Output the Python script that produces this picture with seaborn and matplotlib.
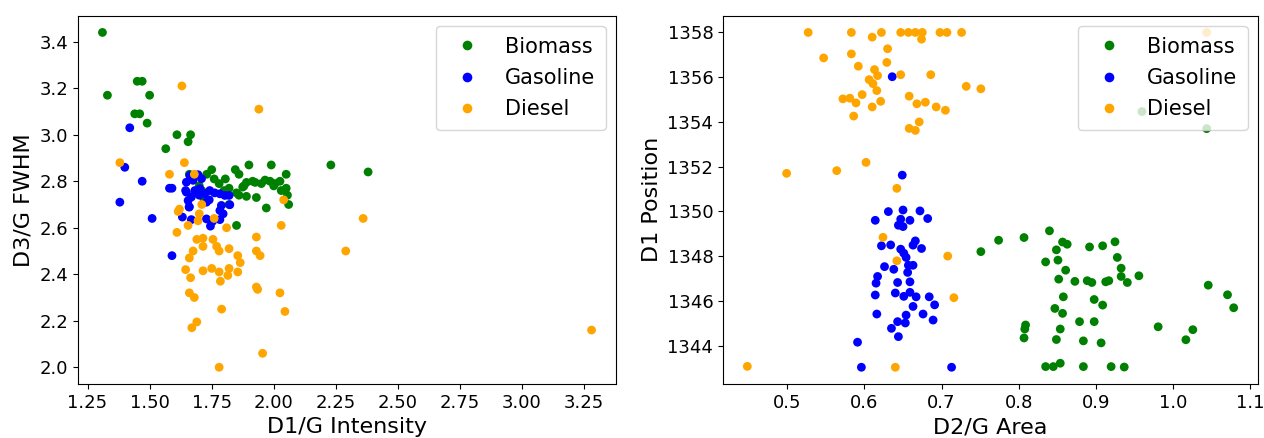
import numpy as np
import pandas as pd
import matplotlib
matplotlib.use("Agg")
import matplotlib.pyplot as plt
import seaborn as sns

categories = ["Biomass", "Gasoline", "Diesel"]
colors = {"Biomass": "green", "Gasoline": "blue", "Diesel": "orange"}

# ---- Left panel: D1/G Intensity vs D3/G FWHM ----
bio_int = [1.31, 1.33, 1.45, 1.47, 1.50, 1.44, 1.46, 1.49, 1.61, 1.665, 1.655, 1.565,
           2.23, 2.38, 1.75, 1.90, 1.99, 1.845, 1.86, 2.05, 1.805, 1.76, 1.73, 1.66,
           1.965, 1.985, 2.005, 2.025, 1.915, 1.89, 1.875, 1.82, 2.05, 1.86, 1.89, 1.93,
           2.055, 2.06, 1.97, 1.85, 1.82, 1.925, 1.85, 1.70, 1.72, 1.78, 1.80, 1.95,
           2.00, 2.03, 1.88, 1.71]
bio_fwhm = [3.44, 3.17, 3.23, 3.23, 3.17, 3.09, 3.09, 3.05, 3.00, 3.00, 2.97, 2.94,
            2.87, 2.84, 2.85, 2.87, 2.87, 2.85, 2.83, 2.83, 2.81, 2.81, 2.83, 2.83,
            2.805, 2.80, 2.79, 2.80, 2.80, 2.795, 2.775, 2.77, 2.77, 2.74, 2.735, 2.73,
            2.74, 2.70, 2.685, 2.61, 2.70, 2.795, 2.75, 2.78, 2.72, 2.79, 2.76, 2.79,
            2.78, 2.76, 2.78, 2.76]

gas_int = [1.42, 1.40, 1.47, 1.38, 1.58, 1.59, 1.51, 1.59,
           1.648, 1.662, 1.675, 1.695, 1.709, 1.648, 1.655, 1.668, 1.682, 1.702,
           1.722, 1.742, 1.762, 1.783, 1.803, 1.820, 1.823, 1.789, 1.783, 1.796,
           1.783, 1.753, 1.745, 1.729, 1.668, 1.632, 1.659, 1.729, 1.645, 1.66,
           1.70, 1.74]
gas_fwhm = [3.03, 2.86, 2.80, 2.71, 2.77, 2.77, 2.64, 2.48,
            2.796, 2.825, 2.804, 2.828, 2.811, 2.753, 2.717, 2.732, 2.760, 2.768,
            2.746, 2.760, 2.750, 2.746, 2.739, 2.739, 2.699, 2.696, 2.674, 2.660,
            2.635, 2.627, 2.607, 2.638, 2.635, 2.646, 2.689, 2.710, 2.76, 2.69,
            2.74, 2.72]

die_int = [1.63, 1.94, 1.38, 1.64, 1.58, 1.68, 2.04, 1.62, 1.615, 1.71, 1.70, 1.695,
           1.76, 1.655, 1.61, 1.81, 2.03, 1.93, 1.69, 1.715, 1.755, 1.715, 1.77, 1.78,
           1.82, 1.675, 1.66, 1.855, 1.93, 1.945, 1.865, 1.645, 1.715, 1.75, 1.78, 1.82,
           1.815, 1.855, 1.785, 1.665, 1.93, 1.935, 2.025, 1.66, 1.68, 1.79, 2.045, 1.69,
           1.67, 1.955, 1.78, 2.29, 2.36, 3.28]
die_fwhm = [3.21, 3.11, 2.88, 2.88, 2.83, 2.83, 2.72, 2.68, 2.67, 2.70, 2.66, 2.63,
            2.64, 2.61, 2.58, 2.60, 2.61, 2.56, 2.55, 2.555, 2.55, 2.52, 2.52, 2.50,
            2.51, 2.50, 2.47, 2.48, 2.50, 2.48, 2.45, 2.42, 2.415, 2.425, 2.41, 2.425,
            2.395, 2.41, 2.37, 2.385, 2.345, 2.335, 2.32, 2.32, 2.30, 2.25, 2.24, 2.195,
            2.17, 2.06, 2.00, 2.50, 2.64, 2.16]

# ---- Right panel: D2/G Area vs D1 Position ----
bio_area = [0.751, 0.774, 0.807, 0.840, 0.857, 0.863, 0.849, 0.892, 0.909, 0.925,
            0.928, 0.835, 0.851, 0.861, 0.852, 0.873, 0.889, 0.895, 0.913, 0.917,
            0.858, 0.898, 0.909, 0.847, 0.857, 0.879, 0.898, 0.809, 0.808, 0.854,
            0.807, 0.849, 0.884, 0.907, 0.835, 0.845, 0.854, 0.884, 0.920,
            0.933, 0.933, 0.941, 0.956, 0.937, 0.981, 1.026, 1.017, 1.046, 1.071,
            1.079, 0.960, 1.044]
bio_pos = [1348.20, 1348.71, 1348.83, 1349.13, 1348.63, 1348.53, 1348.28, 1348.41,
           1348.46, 1348.64, 1347.94, 1347.74, 1347.82, 1347.37, 1346.97, 1346.87,
           1346.90, 1346.82, 1346.85, 1346.90, 1346.18, 1346.06, 1345.81, 1345.66,
           1345.44, 1345.07, 1345.07, 1344.92, 1344.74, 1344.74, 1344.34, 1344.27,
           1344.21, 1344.12, 1343.06, 1343.06, 1343.21, 1343.06, 1343.06,
           1347.46, 1347.09, 1346.82, 1347.12, 1343.04, 1344.84, 1344.71, 1344.26,
           1346.70, 1346.27, 1345.69, 1354.46, 1353.70]

gas_area = [0.636, 0.649, 0.631, 0.650, 0.672, 0.614, 0.682, 0.659, 0.647, 0.644,
            0.650, 0.622, 0.634, 0.666, 0.663, 0.674, 0.647, 0.651, 0.654, 0.657,
            0.663, 0.656, 0.659, 0.626, 0.638, 0.617, 0.615, 0.643, 0.614, 0.640,
            0.651, 0.659, 0.667, 0.684, 0.663, 0.691, 0.616, 0.654, 0.676, 0.689,
            0.643, 0.653, 0.635, 0.644, 0.591, 0.596, 0.713]
gas_pos = [1356.02, 1351.62, 1349.99, 1350.06, 1350.02, 1349.60, 1349.68, 1349.60,
           1349.65, 1349.38, 1349.32, 1348.46, 1348.50, 1348.68, 1348.49, 1348.34,
           1348.31, 1348.13, 1347.94, 1347.59, 1347.59, 1347.27, 1346.85, 1347.53,
           1347.41, 1347.09, 1346.79, 1346.82, 1346.26, 1346.35, 1346.20, 1346.38,
           1346.18, 1346.18, 1345.75, 1345.82, 1345.41, 1345.36, 1345.41, 1345.14,
           1345.07, 1345.01, 1344.77, 1344.40, 1344.15, 1343.03, 1343.03]

die_area = [0.527, 0.583, 0.622, 0.647, 0.657, 0.666, 0.675, 0.698, 0.707, 0.726,
            1.044, 0.610, 0.674, 0.630, 0.547, 0.583, 0.629, 0.592, 0.613, 0.617,
            0.647, 0.686, 0.606, 0.611, 0.616, 0.597, 0.572, 0.581, 0.589, 0.610,
            0.621, 0.658, 0.668, 0.679, 0.693, 0.705, 0.732, 0.751, 0.586, 0.658,
            0.666, 0.671, 0.602, 0.499, 0.564, 0.642, 0.624, 0.642, 0.708, 0.716,
            0.448, 0.640]
die_pos = [1358.0, 1358.0, 1358.0, 1358.0, 1358.0, 1358.0, 1358.0, 1358.0, 1358.0,
           1358.0, 1358.0, 1357.79, 1357.70, 1357.27, 1356.86, 1357.04, 1356.66,
           1356.49, 1356.34, 1356.07, 1356.11, 1356.11, 1355.89, 1355.71, 1355.40,
           1355.22, 1355.03, 1355.06, 1354.85, 1354.67, 1354.92, 1355.15, 1354.81,
           1354.88, 1354.67, 1354.52, 1355.59, 1355.48, 1354.26, 1353.71, 1353.62,
           1354.00, 1352.19, 1351.70, 1351.82, 1351.03, 1348.84, 1347.79, 1348.00,
           1346.14, 1343.07, 1343.03]

left = pd.DataFrame({
    "D1/G Intensity": bio_int + gas_int + die_int,
    "D3/G FWHM": bio_fwhm + gas_fwhm + die_fwhm,
    "Fuel": ["Biomass"] * len(bio_int) + ["Gasoline"] * len(gas_int) + ["Diesel"] * len(die_int),
})
right = pd.DataFrame({
    "D2/G Area": bio_area + gas_area + die_area,
    "D1 Position": bio_pos + gas_pos + die_pos,
    "Fuel": ["Biomass"] * len(bio_area) + ["Gasoline"] * len(gas_area) + ["Diesel"] * len(die_area),
})

fig = plt.figure(figsize=(12.64, 4.38), dpi=100)
ax1 = fig.add_axes([78 / 1264, 54 / 438, 538 / 1264, 368.3 / 438])
ax2 = fig.add_axes([723 / 1264, 54 / 438, 535 / 1264, 368.3 / 438])

for ax, df, xc, yc in [(ax1, left, "D1/G Intensity", "D3/G FWHM"),
                       (ax2, right, "D2/G Area", "D1 Position")]:
    sns.scatterplot(data=df, x=xc, y=yc, hue="Fuel", hue_order=categories,
                    palette=colors, s=40, linewidth=0, ax=ax)
    ax.set_xlabel(xc, fontsize=16)
    ax.set_ylabel(yc, fontsize=16)
    ax.tick_params(labelsize=13)
    handles, labels = ax.get_legend_handles_labels()
    ax.legend(handles, labels, loc="upper right", fontsize=15,
              labelspacing=0.55, borderpad=0.5, markerscale=1.1)

fig.savefig("out.png", dpi=100)
